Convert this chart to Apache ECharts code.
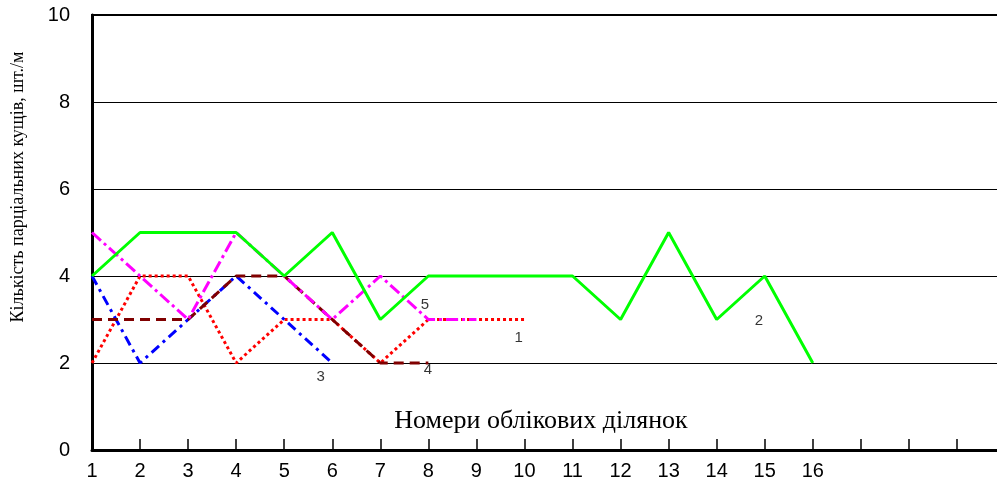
<!DOCTYPE html>
<html><head><meta charset="utf-8">
<script src="https://cdn.jsdelivr.net/npm/echarts@6/dist/echarts.min.js"></script>
<style>html,body{margin:0;padding:0;background:#fff}#c{width:997px;height:484px}</style>
</head><body><div id="c"></div>
<script>
var xValues = [1,2,3,4,5,6,7,8,9,10,11,12,13,14,15,16];
var s1 = [2,4,4,2,3,3,2,3,3,3];
var s2 = [4,5,5,5,4,5,3,4,4,4,4,3,5,3,4,2];
var s3 = [4,2,3,4,3,2];
var s4 = [3,3,3,4,4,3,2,2];
var s5 = [5,4,3,5,4,3,4,3,3];
var seriesNames = ['1','2','3','4','5'];
var labelPos = [[9.88,2.57],[14.88,2.97],[5.76,1.68],[7.99,1.84],[7.93,3.33]];
var yTitle = 'Кількість парціальних кущів, шт./м';
var xTitle = 'Номери облікових ділянок';

function pts(arr){ return arr.map(function(v,i){ return [xValues[i], v]; }); }

var chart = echarts.init(document.getElementById('c'), null, {renderer:'canvas'});
function ln(name, data, color, type, z){
  return {name:name, type:'line', data:pts(data), symbol:'none', z:z,
    lineStyle:{color:color, width:3, type:type, cap:'butt'}, animation:false};
}
chart.setOption({
  animation:false,
  grid:{left:92, top:15, width:913, height:435, show:true, borderColor:'#000', borderWidth:2, backgroundColor:'transparent', outerBoundsMode:'none', containLabel:false},
  xAxis:{type:'value', min:1, max:20, interval:1,
    axisLine:{lineStyle:{color:'#000', width:3}},
    axisTick:{inside:true, length:11, lineStyle:{color:'#000', width:1.5}},
    axisLabel:{fontFamily:'Liberation Sans, Arial', fontSize:20, color:'#000', margin:11,
      formatter:function(v){ return v<=16 ? String(v) : ''; }},
    splitLine:{show:false}},
  yAxis:{type:'value', min:0, max:10, interval:2,
    axisLine:{show:true, lineStyle:{color:'#000', width:3}},
    axisTick:{show:false},
    axisLabel:{fontFamily:'Liberation Sans, Arial', fontSize:20, color:'#000', margin:22},
    splitLine:{show:true, lineStyle:{color:'#000', width:1}}},
  graphic:[
    {type:'text', x:18, y:187, rotation:Math.PI/2, style:{text:yTitle, fontFamily:'Liberation Serif, Times New Roman', fontSize:18, fill:'#000', textAlign:'center', textVerticalAlign:'middle'}},
    {type:'text', x:541, y:421, style:{text:xTitle, fontFamily:'Liberation Serif, Times New Roman', fontSize:26, fill:'#000', textAlign:'center', textVerticalAlign:'middle'}}
  ],
  series:[
    ln('1', s1, '#FF0000', [3,3], 2),
    ln('3', s3, '#0000FF', [10,5,3,5], 3),
    ln('4', s4, '#800000', [10,6], 4),
    ln('5', s5, '#FF00FF', [12,4,3,4], 5),
    ln('2', s2, '#00FF00', 'solid', 6),
    {type:'scatter', symbolSize:0, z:10, silent:true,
      data:labelPos.map(function(p,i){ return {value:p, label:{show:true, formatter:seriesNames[i]}}; }),
      label:{position:'inside', fontFamily:'Liberation Sans, Arial', fontSize:15, color:'#000'}}
  ]
});
</script></body></html>
